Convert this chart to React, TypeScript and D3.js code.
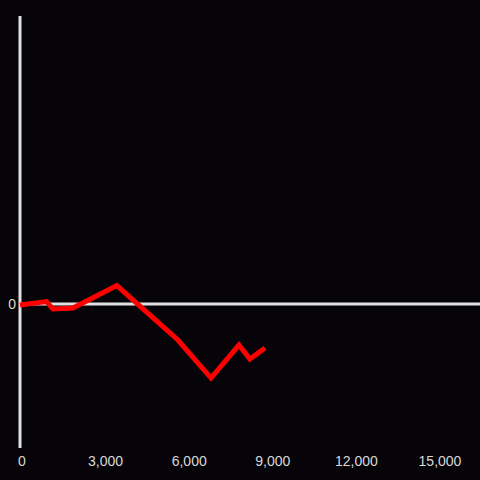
import React from "react";
import * as d3 from "d3";

const xValues = [0, 950, 1180, 1890, 3460, 5640, 6820, 7820, 8210, 8750];
const yValues = [-0.007, 0.017, -0.035, -0.028, 0.128, -0.25, -0.514, -0.285, -0.382, -0.306];
const xTicks = [0, 3000, 6000, 9000, 12000, 15000];
const yTicks = [0];

export default function App() {
  const W = 480, H = 480;
  const x = d3.scaleLinear().domain([0, 15000]).range([20, 440]);
  const xl = d3.scaleLinear().domain([0, 15000]).range([22, 440]);
  const y = d3.scaleLinear().domain([-1, 2]).range([448, 16]);
  const pts: [number, number][] = xValues.map((v, i) => [v, yValues[i]]);
  const line = d3.line<[number, number]>().x(d => x(d[0])).y(d => y(d[1]));
  const fmt = d3.format(",");
  return (
    <svg width={W} height={H} style={{ position: "absolute", left: 0, top: 0, display: "block" }}
      fontFamily="'Liberation Sans', Arial, sans-serif">
      <rect width={W} height={H} fill="#060408" />
      <line x1={x(0)} x2={x(0)} y1={y(2)} y2={y(-1)} stroke="#e0e0e0" strokeWidth={3} />
      {yTicks.map(t => (
        <g key={t}>
          <line x1={x(0)} x2={W} y1={y(t)} y2={y(t)} stroke="#e0e0e0" strokeWidth={3} />
          <text x={16} y={y(t)} dy="0.35em" textAnchor="end" fill="#d8d8d8" fontSize={14}>{fmt(t)}</text>
        </g>
      ))}
      {xTicks.map(t => (
        <text key={t} x={xl(t)} y={466} textAnchor="middle" fill="#d8d8d8" fontSize={14}>{fmt(t)}</text>
      ))}
      <path d={line(pts) || ""} fill="none" stroke="#ff0000" strokeWidth={5} strokeLinejoin="miter" strokeLinecap="butt" />
    </svg>
  );
}
